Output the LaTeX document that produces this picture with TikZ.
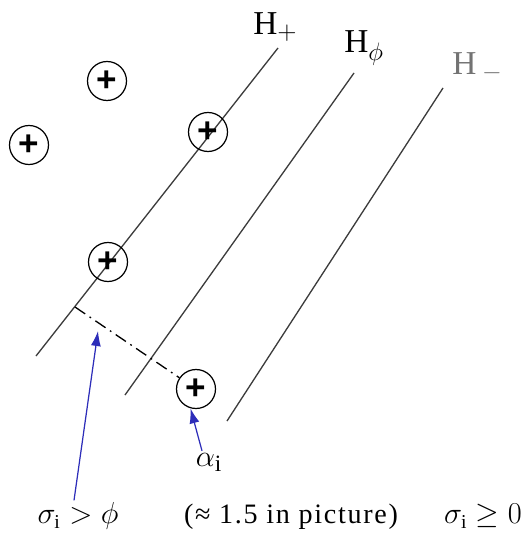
\documentclass[tikz,border=0pt]{standalone}
\usepackage{fontspec}
\setmainfont{Liberation Serif}
\newfontfamily\plusfont{Liberation Sans}
\usetikzlibrary{arrows.meta}
\definecolor{arrowblue}{RGB}{45,45,185}
\definecolor{planegray}{RGB}{60,60,60}
\tikzset{
  pt/.style={draw, circle, line width=0.7pt, minimum size=0.78cm, inner sep=0pt, font=\plusfont\fontsize{20}{20}\bfseries\selectfont},
  hplane/.style={draw=planegray, line width=0.75pt},
  hlabel/.style={anchor=base west, inner sep=0pt, font=\fontsize{19}{20}\selectfont},
  lab/.style={inner sep=1pt, font=\fontsize{16}{18}\selectfont},
  bluearrow/.style={draw=arrowblue, line width=0.7pt, -{Latex[length=3mm,width=2mm]}}
}
\begin{document}
\begin{tikzpicture}[x=0.02cm, y=-0.02cm]
  \useasboundingbox (0,0) rectangle (526,540);
  % hyperplanes
  \coordinate (hpT) at (278,48);  \coordinate (hpB) at (36,356);
  \coordinate (hzT) at (354,73);  \coordinate (hzB) at (125,395);
  \coordinate (hmT) at (443,88);  \coordinate (hmB) at (227,421);
  \draw[hplane] (hpB) -- (hpT);
  \draw[hplane] (hzB) -- (hzT);
  \draw[hplane] (hmB) -- (hmT);
  \node[hlabel] (hpLab) at (253,35) {H$_+$};
  \node[hlabel] (hzLab) at (344,53) {H$_\phi$};
  \node[hlabel, text=black!55] (hmLab) at (452,75) {H\,$_-$};
  % points
  \node[pt] (p1) at (107,81) {+};
  \node[pt] (p2) at (29,145) {+};
  \node[pt] (p3) at (208,132) {+};
  \node[pt] (p4) at (108,262) {+};
  \node[pt] (p5) at (196,389) {+};
  % margin
  \coordinate (foot) at (75,307);
  \draw[line width=0.75pt, dash pattern=on 7pt off 3pt on 1pt off 3pt] (foot) -- (p5);
  \coordinate (gapMid) at (98,331);
  % labels
  \node[lab] (sigLab) at (78,516) {$\sigma_{\mathrm{i}} > \phi$};
  \node[lab] (approxLab) at (291,517) {\addfontfeatures{LetterSpace=6}(≈ 1.5 in picture)};
  \node[lab] (zeroLab) at (483,516) {$\sigma_{\mathrm{i}} \geq 0$};
  \node[lab, font=\fontsize{19}{20}\selectfont] (alphaLab) at (209,462) {$\alpha_{\mathrm{i}}$};
  \draw[bluearrow] ([xshift=-0.08cm]sigLab.north) -- (gapMid);
  \draw[bluearrow] ([xshift=-0.14cm]alphaLab.north) -- (p5.254);
\end{tikzpicture}
\end{document}
